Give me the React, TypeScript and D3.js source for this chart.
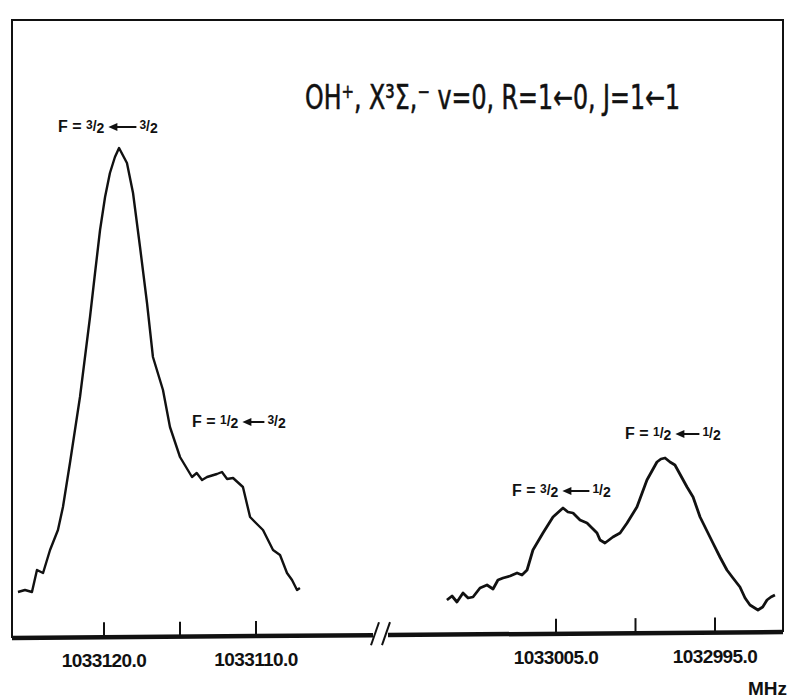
import React, { useEffect, useRef } from 'react';
import * as d3 from 'd3';

// frequencies (MHz) and relative intensity of the left trace, near 1033115
const leftFreq = [
  1033125.66, 1033125.2, 1033124.74, 1033124.41, 1033124.01, 1033123.55, 1033123.03,
  1033122.7, 1033122.24, 1033121.91, 1033121.58, 1033121.25, 1033120.92, 1033120.59,
  1033120.26, 1033119.93, 1033119.61, 1033119.28, 1033119.01, 1033118.49, 1033118.09,
  1033117.63, 1033117.17, 1033116.78, 1033116.12, 1033115.66, 1033115.0, 1033114.21,
  1033113.9, 1033113.55, 1033113.22, 1033112.57, 1033112.24, 1033111.9, 1033111.51,
  1033110.86, 1033110.39, 1033110.07, 1033109.54, 1033109.21, 1033108.88, 1033108.42,
  1033107.96, 1033107.63, 1033107.3, 1033107.11,
];
const leftInt = [
  9.0, 9.4, 9.0, 13.4, 12.8, 17.4, 21.4,
  26.0, 34.8, 41.4, 48.0, 56.0, 64.0, 72.8,
  81.4, 88.0, 92.8, 96.0, 97.8, 94.8, 88.8,
  78.0, 66.8, 56.0, 49.4, 42.0, 36.0, 32.0,
  32.8, 31.4, 32.0, 32.6, 33.0, 31.6, 31.8,
  30.0, 24.0, 23.0, 21.4, 19.4, 17.4, 16.4,
  12.8, 11.4, 9.4, 9.8,
];

// right trace near 1033000
const rightFreq = [
  1033011.86, 1033011.54, 1033011.23, 1033010.85, 1033010.53, 1033010.22, 1033009.78,
  1033009.34, 1033008.96, 1033008.65, 1033008.33, 1033007.89, 1033007.45, 1033007.14,
  1033006.82, 1033006.45, 1033005.82, 1033005.19, 1033004.56, 1033004.25, 1033003.93,
  1033003.49, 1033003.05, 1033002.42, 1033002.23, 1033001.92, 1033001.42, 1033000.97,
  1033000.53, 1032999.91, 1032999.28, 1032998.65, 1032998.4, 1032998.14, 1032997.83,
  1032997.52, 1032996.76, 1032996.38, 1032995.94, 1032995.13, 1032994.69, 1032994.25,
  1032993.87, 1032993.43, 1032993.11, 1032992.8, 1032992.3, 1032992.0, 1032991.73,
  1032991.48, 1032991.23,
];
const rightInt = [
  7.4, 8.2, 7.0, 8.8, 7.8, 8.0, 9.8,
  10.4, 9.6, 11.4, 11.8, 12.2, 12.8, 12.4,
  13.4, 17.4, 20.8, 24.0, 25.8, 25.0, 24.8,
  23.4, 22.8, 20.8, 19.4, 18.8, 20.0, 20.8,
  22.8, 26.0, 31.4, 35.0, 35.6, 35.8, 35.0,
  34.4, 30.0, 28.0, 24.0, 18.8, 16.0, 13.4,
  11.8, 10.0, 7.8, 6.4, 5.4, 6.0, 7.4,
  8.0, 8.4,
];

const leftTicks = [1033120, 1033115, 1033110];
const rightTicks = [1033005, 1033000, 1032995];
const leftTickLabels = ['1033120.0', '', '1033110.0'];
const rightTickLabels = ['1033005.0', '', '1032995.0'];

const narrowFont = '"Liberation Sans Narrow", "Liberation Sans", Arial, sans-serif';
const labelFont = '"Liberation Sans", Arial, sans-serif';

const App = () => {
  const svgRef = useRef<SVGSVGElement>(null);

  useEffect(() => {
    const svg = d3.select(svgRef.current);
    svg.selectAll('*').remove();

    const width = 791;
    const height = 698;
    const frame = { left: 12, right: 783, top: 20 };

    // axis is a little tilted in the scan
    const axisY = (x: number) => 638 - ((x - frame.left) * 6) / (frame.right - frame.left);

    const xLeft = d3.scaleLinear().domain([1033120, 1033110]).range([104, 256]);
    const xRight = d3.scaleLinear().domain([1033005, 1032995]).range([556, 715]);
    const y = d3.scaleLinear().domain([0, 100]).range([637, 137]);

    svg.append('rect').attr('width', width).attr('height', height).attr('fill', '#fff');

    // frame
    svg.append('path')
      .attr('d', `M${frame.left},${axisY(frame.left)}V${frame.top}H${frame.right}V${axisY(frame.right)}`)
      .attr('fill', 'none')
      .attr('stroke', '#111')
      .attr('stroke-width', 2);

    // thick frequency axis, broken in the middle
    const breakL = 373;
    const breakR = 388;
    [[frame.left, breakL], [breakR, frame.right]].forEach(([a, b]) => {
      svg.append('line')
        .attr('x1', a).attr('y1', axisY(a))
        .attr('x2', b).attr('y2', axisY(b))
        .attr('stroke', '#111')
        .attr('stroke-width', 4.5);
    });
    [371, 382].forEach(x => {
      svg.append('line')
        .attr('x1', x).attr('y1', axisY(x) + 10)
        .attr('x2', x + 8).attr('y2', axisY(x) - 13)
        .attr('stroke', '#111')
        .attr('stroke-width', 2);
    });

    // ticks + labels
    const drawTicks = (scale: d3.ScaleLinear<number, number>, ticks: number[], labels: string[]) => {
      ticks.forEach((t, i) => {
        const x = scale(t);
        svg.append('line')
          .attr('x1', x).attr('y1', axisY(x))
          .attr('x2', x).attr('y2', axisY(x) - 15)
          .attr('stroke', '#111')
          .attr('stroke-width', 2);
        if (labels[i]) {
          svg.append('text')
            .attr('x', x)
            .attr('y', axisY(x) + 30)
            .attr('text-anchor', 'middle')
            .attr('font-family', narrowFont)
            .attr('font-weight', 'bold')
            .attr('font-size', 19)
            .attr('letter-spacing', -0.6)
            .attr('fill', '#111')
            .text(labels[i]);
        }
      });
    };
    drawTicks(xLeft, leftTicks, leftTickLabels);
    drawTicks(xRight, rightTicks, rightTickLabels);

    svg.append('text')
      .attr('x', 787)
      .attr('y', 695)
      .attr('text-anchor', 'end')
      .attr('font-family', labelFont)
      .attr('font-weight', 'bold')
      .attr('font-size', 19)
      .attr('fill', '#111')
      .text('MHz');

    // spectra
    const lineLeft = d3.line<number>()
      .x((_, i) => xLeft(leftFreq[i]))
      .y(d => y(d));
    const lineRight = d3.line<number>()
      .x((_, i) => xRight(rightFreq[i]))
      .y(d => y(d));

    svg.append('path')
      .attr('d', lineLeft(leftInt))
      .attr('fill', 'none')
      .attr('stroke', '#111')
      .attr('stroke-width', 2.4)
      .attr('stroke-linejoin', 'round');
    svg.append('path')
      .attr('d', lineRight(rightInt))
      .attr('fill', 'none')
      .attr('stroke', '#111')
      .attr('stroke-width', 2.8)
      .attr('stroke-linejoin', 'round');

    // title
    svg.append('text')
      .attr('x', 305)
      .attr('y', 109)
      .attr('font-family', '"DejaVu Sans", sans-serif')
      .attr('font-size', 34)
      .attr('fill', '#111')
      .attr('stroke', '#111')
      .attr('stroke-width', 0.6)
      .attr('textLength', 375)
      .attr('lengthAdjust', 'spacingAndGlyphs')
      .text('OH⁺, X³Σ,⁻ v=0, R=1←0, J=1←1');

    // transition labels
    const label = (x: number, yy: number, from: string, to: string, arrow: number) => {
      const g = svg.append('g').attr('font-family', labelFont).attr('font-weight', 'bold').attr('fill', '#111');
      const addFrac = (t: d3.Selection<SVGTextElement, unknown, null, undefined>, frac: string) => {
        const [n, d] = frac.split('/');
        t.append('tspan').attr('font-size', 12).attr('dy', -3).text(n);
        t.append('tspan').attr('font-size', 14).attr('dy', 2).text('/');
        t.append('tspan').attr('font-size', 14).attr('dy', 2).text(d);
      };
      const t1 = g.append('text').attr('x', x).attr('y', yy).attr('font-size', 16);
      t1.append('tspan').text('F = ');
      addFrac(t1, from);
      const w1 = (t1.node() as SVGTextElement).getComputedTextLength();
      const ax = x + w1 + 4;
      g.append('path')
        .attr('d', `M${ax},${yy - 5}l9,-4v8z`)
        .attr('fill', '#111');
      g.append('line')
        .attr('x1', ax + 8).attr('y1', yy - 5)
        .attr('x2', ax + arrow).attr('y2', yy - 5)
        .attr('stroke', '#111')
        .attr('stroke-width', 2);
      const t2 = g.append('text').attr('x', ax + arrow + 3).attr('y', yy).attr('font-size', 16);
      addFrac(t2, to);
    };
    label(58, 132, '3/2', '3/2', 28);
    label(192, 427, '1/2', '3/2', 22);
    label(512, 496, '3/2', '1/2', 27);
    label(625, 439, '1/2', '1/2', 24);
  }, []);

  return (
    <svg
      ref={svgRef}
      width={791}
      height={698}
      style={{ position: 'absolute', left: 0, top: 0 }}
    ></svg>
  );
};

export default App;
